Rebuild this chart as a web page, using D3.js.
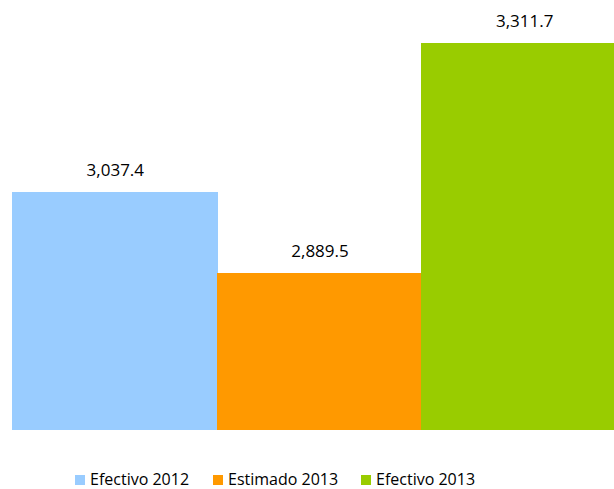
<!DOCTYPE html>
<html>
<head>
<meta charset="utf-8">
<script src="https://cdn.jsdelivr.net/npm/d3@7"></script>
<style>
  body { margin: 0; background: #fff; }
  svg { display: block; }
  text { font-family: "Open Sans", "Noto Sans", sans-serif; fill: #000; }
</style>
</head>
<body>
<svg id="chart" width="614" height="489"></svg>
<script>
// chart data
const categories = ['Efectivo 2012', 'Estimado 2013', 'Efectivo 2013'];
const values = [3037.4, 2889.5, 3311.7];
const colors = ['#99ccff', '#ff9900', '#99cc00'];

const svg = d3.select('#chart');

// bars sit side by side, axis does not start at zero
const x = d3.scaleBand()
    .domain(categories)
    .range([12, 626])
    .padding(0);

const y = d3.scaleLinear()
    .domain([2600, 3400])
    .range([430, -5]);

const fmt = d3.format(',.1f');

svg.selectAll('rect.bar')
    .data(values)
    .join('rect')
    .attr('class', 'bar')
    .attr('x', (d, i) => Math.round(x(categories[i])))
    .attr('y', d => Math.round(y(d)))
    .attr('width', Math.round(x.bandwidth()) + 1)
    .attr('height', d => Math.round(y(2600)) - Math.round(y(d)))
    .attr('fill', (d, i) => colors[i])
    .attr('shape-rendering', 'crispEdges');

// value labels above each bar
svg.selectAll('text.val')
    .data(values)
    .join('text')
    .attr('class', 'val')
    .attr('x', (d, i) => x(categories[i]) + x.bandwidth() / 2 + 1)
    .attr('y', d => y(d) - 16)
    .attr('text-anchor', 'middle')
    .style('font-size', '17px')
    .text(d => fmt(d));

// legend
const legendX = [75, 213, 361];
const legend = svg.selectAll('g.leg')
    .data(categories)
    .join('g')
    .attr('class', 'leg')
    .attr('transform', (d, i) => `translate(${legendX[i]},474)`);

legend.append('rect')
    .attr('width', 10)
    .attr('height', 10)
    .attr('y', 1)
    .attr('fill', (d, i) => colors[i]);

legend.append('text')
    .attr('x', 15)
    .attr('y', 11)
    .style('font-size', '16px')
    .text(d => d);
</script>
</body>
</html>
